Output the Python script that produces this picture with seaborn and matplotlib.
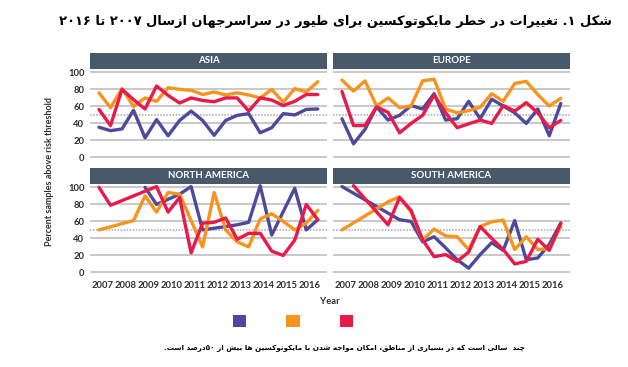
import re
import numpy as np
import pandas as pd
import seaborn as sns
import matplotlib.pyplot as plt
from matplotlib.patches import Rectangle, Patch

# half-year steps 2007 .. 2016.5
periods = [2007 + 0.5 * i for i in range(20)]
years = list(range(2007, 2017))
series_names = ['purple', 'orange', 'red']
regions = ['ASIA', 'EUROPE', 'NORTH AMERICA', 'SOUTH AMERICA']

asia_purple = [35.5, 31.5, 33.5, 55.5, 23, 44.5, 25.5, 43.5, 54.5, 43.5, 26, 43.5, 49.5, 51.5, 29, 35, 51.5, 50, 56.5, 57]
asia_orange = [76, 58.5, 81, 60, 70, 66, 82, 80, 79, 74, 77, 73.5, 76, 73.5, 70, 80, 65, 81, 77, 89]
asia_red = [56.5, 37.5, 80, 68, 57, 84, 73, 64, 70, 67, 65.5, 70, 70, 54.5, 70, 67.5, 61, 66, 74, 74]

europe_purple = [45.5, 16, 33, 59.5, 44, 49.5, 61, 57, 75, 44, 45.5, 66, 45.5, 68.5, 60.5, 52.5, 40, 57, 25.5, 63.5]
europe_orange = [91, 78, 90, 60.5, 70, 58.5, 60.5, 90, 92, 57, 52.5, 55, 59, 75, 66, 87, 89.5, 74, 60.5, 69.5]
europe_red = [77.5, 37.5, 37.5, 59.5, 53, 29, 40, 49.5, 73.5, 52.5, 35, 39.5, 44, 40, 61, 54.5, 64.5, 52.5, 35, 43.5]

na_purple = [None, None, None, None, 100, 80, 86, 92, 101, 50, 52, 54, 56, 59, 102, 44, None, 99, 50, 62]
na_orange = [50, None, None, 61, 90, 71, 94, 92, None, 30, 94, 50, 36, 30, 63, 69, 60, 50, 58, 73]
na_red = [100, 79, None, None, None, 101, 71, 88, 23, 58, 59, 64, 39, 46, 46, 25, 20, 38, 80, 62]

sa_purple = [101, None, None, None, None, 62, 60, 36, 42, 29, 15, 5, 21, 35, 26, 61, 15, 17, 33, 58]
sa_orange = [50, None, None, None, 83, 89, 71, 38, 51, 43, 42, 27, 54, 59.5, 61.5, 27, 42, 27, 28, 54]
sa_red = [None, 102, None, None, 56, 88, 73, 38.5, 18.5, 21, 13, 24, 54, 40, 27, 10, 13, 39, 26, 58]

title_fa = 'شکل ۱. تغییرات در خطر مایکوتوکسین برای طیور در سراسرجهان ازسال ۲۰۰۷ تا ۲۰۱۶'
note_fa = 'چند  سالی است که در بسیاری از مناطق، امکان مواجه شدن با مایکوتوکسین ها بیش از ۵۰درصد است.'

colors = {'purple': '#4d4a9e', 'orange': '#f7941d', 'red': '#e8194b'}
header_color = '#48596a'

# long table for seaborn
table = {'ASIA': [asia_purple, asia_orange, asia_red],
         'EUROPE': [europe_purple, europe_orange, europe_red],
         'NORTH AMERICA': [na_purple, na_orange, na_red],
         'SOUTH AMERICA': [sa_purple, sa_orange, sa_red]}
rows = []
for reg in regions:
    for name, vals in zip(series_names, table[reg]):
        for p, v in zip(periods, vals):
            rows.append((reg, name, p, np.nan if v is None else v))
df = pd.DataFrame(rows, columns=['region', 'series', 'period', 'value']).dropna()


# matplotlib has no arabic shaping, so pick presentation forms + visual order
DUAL = {'ب': 0xFE8F, 'پ': 0xFB56, 'ت': 0xFE95, 'ث': 0xFE99, 'ج': 0xFE9D, 'چ': 0xFB7A,
        'ح': 0xFEA1, 'خ': 0xFEA5, 'س': 0xFEB1, 'ش': 0xFEB5, 'ص': 0xFEB9, 'ض': 0xFEBD,
        'ط': 0xFEC1, 'ظ': 0xFEC5, 'ع': 0xFEC9, 'غ': 0xFECD, 'ف': 0xFED1, 'ق': 0xFED5,
        'ک': 0xFB8E, 'گ': 0xFB92, 'ل': 0xFEDD, 'م': 0xFEE1, 'ن': 0xFEE5, 'ه': 0xFEE9,
        'ی': 0xFBFC}
RIGHT = {'ا': 0xFE8D, 'آ': 0xFE81, 'د': 0xFEA9, 'ذ': 0xFEAB, 'ر': 0xFEAD, 'ز': 0xFEAF,
         'ژ': 0xFB8A, 'و': 0xFEED}


def shape_fa(text):
    s = text.replace('ي', 'ی').replace('ك', 'ک')
    out = []
    i = 0
    while i < len(s):
        c = s[i]
        prev = s[i - 1] if i > 0 else ''
        nxt = s[i + 1] if i + 1 < len(s) else ''
        p = prev in DUAL
        if c == 'ل' and nxt == 'ا':
            out.append(chr(0xFEFC if p else 0xFEFB))
            i += 2
            continue
        if c in DUAL:
            q = nxt in DUAL or nxt in RIGHT
            off = 3 if (p and q) else 1 if p else 2 if q else 0
            out.append(chr(DUAL[c] + off))
        elif c in RIGHT:
            out.append(chr(RIGHT[c] + (1 if p else 0)))
        else:
            out.append(c)
        i += 1
    tokens = re.findall(r'[0-9۰-۹]+|.', ''.join(out))
    return ''.join(reversed(tokens))


sns.set_style('white')
plt.rcParams['font.family'] = ['Lato', 'DejaVu Sans']

W, H = 628, 367
fig = plt.figure(figsize=(W / 100, H / 100), dpi=100)


def rect(x0, y0, x1, y1):
    return [x0 / W, 1 - y1 / H, (x1 - x0) / W, (y1 - y0) / H]


boxes = {'ASIA': rect(90, 69, 327, 160), 'EUROPE': rect(333, 69, 570, 160),
         'NORTH AMERICA': rect(90, 184, 327, 275), 'SOUTH AMERICA': rect(333, 184, 570, 275)}

for k, reg in enumerate(regions):
    ax = fig.add_axes(boxes[reg])
    sub = df[df['region'] == reg]
    sns.lineplot(data=sub, x='period', y='value', hue='series', hue_order=series_names,
                 palette=colors, linewidth=2.4, legend=False, ax=ax, zorder=3)
    ax.set_xlim(2006.61, 2016.9)
    ax.set_ylim(-3, 104)
    ax.set_yticks(range(0, 101, 20))
    ax.grid(axis='y', color='#c8c8c8', lw=1.4)
    ax.grid(axis='x', visible=False)
    ax.set_axisbelow(True)
    ax.axhline(50, color='#a8a8a8', lw=1.1, ls=(0, (1, 1)), zorder=1)
    for sp in ax.spines.values():
        sp.set_visible(False)
    ax.set_xlabel('')
    ax.set_ylabel('')
    ax.set_xticks([y + 0.15 for y in years])
    ax.set_xticklabels([str(y) for y in years])
    ax.tick_params(length=0, labelsize=6.8, labelcolor='#2e2e2e', pad=4)
    for t in ax.get_xticklabels() + ax.get_yticklabels():
        t.set_fontweight('bold')
    if k % 2 == 1:
        ax.tick_params(labelleft=False)
    if k < 2:
        ax.tick_params(labelbottom=False)
    # header bar
    hh = 16.5 / 91
    ax.add_patch(Rectangle((0, 1), 1, hh, transform=ax.transAxes, clip_on=False,
                           facecolor=header_color, edgecolor='none'))
    ax.text(0.5, 1 + hh / 2, reg, transform=ax.transAxes, ha='center', va='center',
            color='white', fontsize=7, fontweight='bold')

fig.text(50 / W, 1 - 172 / H, 'Percent samples above risk threshold', rotation=90,
         ha='center', va='center', fontsize=6.5, fontweight='bold', color='#2e2e2e')
fig.text(330 / W, 1 - 302 / H, 'Year', ha='center', va='center', fontsize=6.8,
         fontweight='bold', color='#2e2e2e')

handles = [Patch(facecolor=colors[n], edgecolor='none') for n in series_names]
fig.legend(handles, ['', '', ''], loc='center', bbox_to_anchor=(293 / W, 1 - 321 / H),
           ncol=3, frameon=False, fontsize=10, handlelength=1.0, handleheight=1.0,
           handletextpad=0, columnspacing=2.85)

fig.text(612 / W, 1 - 22 / H, shape_fa(title_fa), ha='right', va='center',
         fontsize=9.4, fontweight='bold', family=['DejaVu Sans'], color='black')
fig.text(525 / W, 1 - 348 / H, shape_fa(note_fa), ha='right', va='center',
         fontsize=5.2, fontweight='bold', family=['DejaVu Sans'], color='black')

fig.savefig('out.png', dpi=100)
